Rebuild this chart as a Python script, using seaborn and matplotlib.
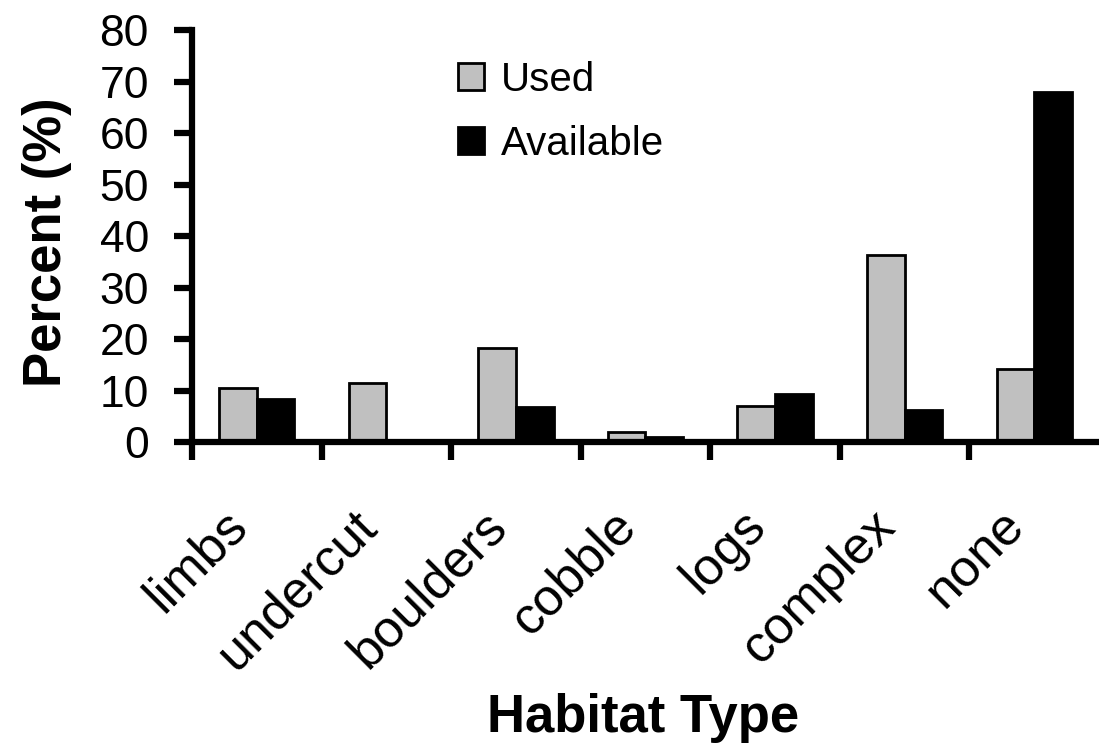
import numpy as np
import pandas as pd
import matplotlib
matplotlib.use("Agg")
import matplotlib.pyplot as plt
import matplotlib.transforms as mtransforms
import seaborn as sns

# values
habitats = ["limbs", "undercut", "boulders", "cobble", "logs", "complex", "none"]
used = [10.5, 11.5, 18.3, 2.0, 6.9, 36.3, 14.2]
available = [8.3, 0.3, 6.8, 0.9, 9.4, 6.2, 68.0]

df = pd.DataFrame({
    "Habitat": habitats * 2,
    "Series": ["Used"] * len(habitats) + ["Available"] * len(habitats),
    "Percent": used + available,
})

sns.set_style("ticks")
plt.rcParams["font.family"] = ["Liberation Sans", "DejaVu Sans"]
for key in ["text.color", "axes.labelcolor", "xtick.color", "ytick.color", "axes.edgecolor"]:
    plt.rcParams[key] = "black"

fig = plt.figure(figsize=(10.99, 7.53), dpi=100)
ax = fig.add_axes([0.1747, 0.413, 0.8253, 0.547])

sns.barplot(data=df, x="Habitat", y="Percent", hue="Series",
            palette={"Used": "#C0C0C0", "Available": "black"},
            width=0.58, edgecolor="black", linewidth=2, ax=ax)

ax.set_xlim(-0.5, 6.5)
ax.set_ylim(0, 80)
ax.set_yticks(np.arange(0, 81, 10))
ax.tick_params(axis="y", labelsize=32, length=13, width=4.5, direction="out", pad=18)

# category labels without marks, marks between the groups
ax.tick_params(axis="x", which="major", length=0, labelsize=37.5, pad=0)
ax.set_xticks(np.arange(-0.5, 6.5, 1), minor=True)
ax.tick_params(axis="x", which="minor", length=13, width=4.5, direction="out")
ax.set_xticklabels(habitats, rotation=45, ha="right", va="top", rotation_mode="anchor")
shift = mtransforms.ScaledTranslation(-0.345, -0.59, fig.dpi_scale_trans)
for lab in ax.get_xticklabels():
    lab.set_transform(lab.get_transform() + shift)

for side in ["top", "right"]:
    ax.spines[side].set_visible(False)
for side in ["left", "bottom"]:
    ax.spines[side].set_linewidth(4.5)

ax.set_xlabel("Habitat Type", fontsize=38, fontweight="bold")
ax.set_ylabel("Percent (%)", fontsize=38, fontweight="bold")
ax.xaxis.set_label_coords(0.497, -0.61)
ax.yaxis.set_label_coords(-0.1325, 0.485)

ax.legend(loc="upper left", bbox_to_anchor=(0.293, 0.925), frameon=False,
          fontsize=29, handlelength=0.65, handleheight=0.65, handletextpad=0.42,
          labelspacing=0.64, borderpad=0, borderaxespad=0)

fig.savefig("out.png", dpi=100)
